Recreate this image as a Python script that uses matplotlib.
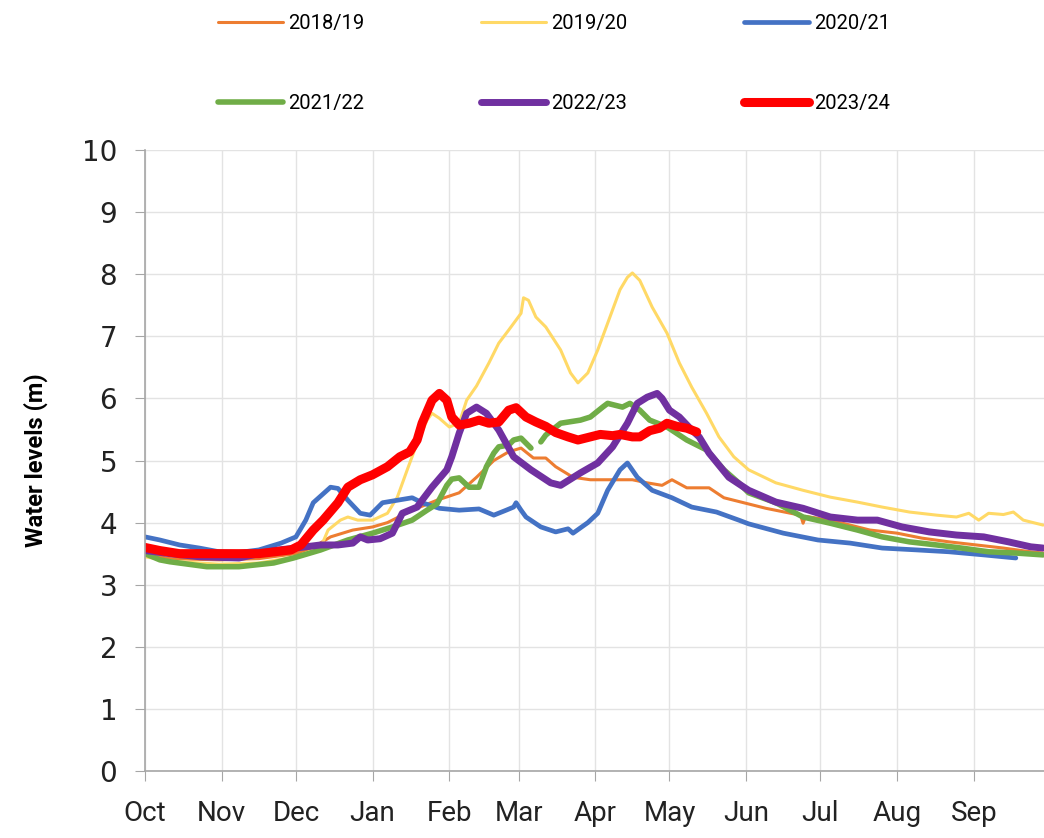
import numpy as np
import matplotlib
matplotlib.use("Agg")
from matplotlib import pyplot as plt

# water year Oct -> Sep, x in days since 1 Oct
months = ['Oct', 'Nov', 'Dec', 'Jan', 'Feb', 'Mar', 'Apr', 'May', 'Jun', 'Jul', 'Aug', 'Sep']
month_days = [0, 31, 61, 92, 123, 151, 182, 212, 243, 273, 304, 335]

d1819 = [0, 10, 30, 46, 61, 68, 75, 84, 92, 98, 108, 118, 127, 134, 141, 147, 152, 157, 162, 166, 173,
         180, 189, 197, 203, 209, 213, 219, 228, 234, 242, 251, 261, 265, 266, 267, 272, 282, 293, 304,
         314, 325, 336, 347, 358, 363]
v1819 = [3.5, 3.42, 3.4, 3.42, 3.5, 3.6, 3.77, 3.88, 3.93, 4.0, 4.2, 4.36, 4.48, 4.73, 5.0, 5.14, 5.2,
         5.04, 5.04, 4.9, 4.73, 4.69, 4.69, 4.69, 4.64, 4.6, 4.69, 4.56, 4.56, 4.4, 4.32, 4.23, 4.15, 4.12,
         3.99, 4.1, 4.07, 3.99, 3.88, 3.83, 3.75, 3.69, 3.64, 3.59, 3.53, 3.51]

d1920 = [0, 10, 30, 46, 61, 71, 74, 79, 82, 86, 92, 98, 102, 106, 110, 114, 116, 119, 123, 127, 130,
         134, 139, 143, 147, 152, 153, 155, 158, 162, 168, 172, 175, 179, 183, 187, 192, 195, 197, 200,
         205, 211, 216, 221, 227, 232, 238, 244, 255, 266, 277, 288, 298, 309, 320, 328, 333, 337, 341,
         347, 351, 355, 363]
v1920 = [3.45, 3.38, 3.33, 3.35, 3.45, 3.6, 3.88, 4.04, 4.09, 4.04, 4.04, 4.15, 4.41, 4.85, 5.28, 5.65,
         5.76, 5.68, 5.54, 5.6, 5.97, 6.2, 6.57, 6.89, 7.1, 7.37, 7.62, 7.58, 7.31, 7.15, 6.78, 6.41, 6.25,
         6.41, 6.78, 7.21, 7.75, 7.95, 8.02, 7.9, 7.47, 7.05, 6.57, 6.18, 5.76, 5.38, 5.06, 4.85, 4.64,
         4.52, 4.41, 4.33, 4.25, 4.17, 4.12, 4.09, 4.15, 4.04, 4.15, 4.13, 4.17, 4.04, 3.96]

d2021 = [0, 6, 14, 22, 30, 38, 46, 55, 61, 65, 68, 75, 78, 82, 87, 91, 96, 102, 108, 112, 119, 127,
         135, 141, 146, 149, 150, 152, 154, 160, 166, 171, 173, 179, 183, 187, 192, 195, 199, 205, 213,
         221, 231, 240, 244, 258, 272, 285, 298, 312, 325, 339, 352]
v2021 = [3.77, 3.72, 3.64, 3.59, 3.53, 3.52, 3.56, 3.67, 3.77, 4.04, 4.32, 4.57, 4.55, 4.36, 4.15, 4.12,
         4.32, 4.36, 4.4, 4.32, 4.23, 4.2, 4.22, 4.12, 4.2, 4.25, 4.32, 4.2, 4.09, 3.93, 3.85, 3.9, 3.83,
         4.0, 4.15, 4.52, 4.85, 4.96, 4.73, 4.52, 4.4, 4.25, 4.17, 4.04, 3.98, 3.83, 3.72, 3.67, 3.59, 3.56,
         3.53, 3.48, 3.43]

d2122 = [0, 6, 10, 25, 38, 52, 60, 71, 82, 92, 100, 108, 114, 118, 122, 124, 127, 131, 135, 138, 141,
         143, 147, 149, 152, 156, 157, 160, 162, 168, 176, 180, 185, 187, 193, 196, 200, 204, 211, 219,
         227, 234, 240, 244, 255, 266, 277, 288, 298, 309, 320, 330, 341, 352, 363]
v2122 = [3.5, 3.4, 3.37, 3.29, 3.29, 3.35, 3.43, 3.56, 3.72, 3.83, 3.93, 4.04, 4.2, 4.3, 4.6, 4.7, 4.72,
         4.57, 4.57, 4.9, 5.12, 5.22, 5.25, 5.33, 5.36, 5.2, np.nan, 5.3, 5.41, 5.6, 5.65, 5.7, 5.86, 5.92,
         5.86, 5.92, 5.81, 5.65, 5.54, 5.33, 5.17, 4.85, 4.64, 4.48, 4.32, 4.09, 3.99, 3.88, 3.77, 3.69,
         3.64, 3.59, 3.53, 3.51, 3.48]

d2223 = [0, 10, 22, 38, 52, 63, 71, 78, 84, 87, 90, 95, 100, 104, 110, 112, 116, 122, 124, 127, 130,
         134, 138, 143, 149, 156, 164, 168, 176, 183, 189, 195, 199, 203, 207, 209, 212, 216, 221, 224,
         228, 236, 244, 255, 266, 277, 288, 296, 306, 317, 328, 339, 349, 358, 363]
v2223 = [3.55, 3.5, 3.45, 3.43, 3.55, 3.6, 3.64, 3.64, 3.67, 3.77, 3.72, 3.74, 3.83, 4.15, 4.25, 4.36,
         4.57, 4.85, 5.06, 5.44, 5.76, 5.86, 5.76, 5.49, 5.06, 4.85, 4.64, 4.6, 4.8, 4.96, 5.22, 5.6, 5.92,
         6.02, 6.08, 6.0, 5.81, 5.7, 5.49, 5.38, 5.12, 4.73, 4.52, 4.33, 4.23, 4.09, 4.04, 4.04, 3.93, 3.85,
         3.8, 3.77, 3.69, 3.61, 3.59]

d2324 = [0, 6, 14, 30, 46, 59, 63, 68, 72, 78, 82, 87, 92, 98, 103, 107, 110, 112, 116, 119, 122, 124,
         127, 131, 135, 139, 143, 147, 150, 154, 158, 162, 166, 171, 175, 180, 184, 189, 192, 197, 200,
         204, 208, 211, 215, 219, 223]
v2324 = [3.6, 3.55, 3.5, 3.5, 3.5, 3.56, 3.64, 3.88, 4.04, 4.32, 4.57, 4.69, 4.77, 4.9, 5.06, 5.14, 5.33,
         5.6, 5.97, 6.08, 5.97, 5.7, 5.57, 5.6, 5.65, 5.6, 5.62, 5.81, 5.85, 5.7, 5.62, 5.55, 5.45, 5.38,
         5.33, 5.38, 5.42, 5.4, 5.42, 5.38, 5.38, 5.48, 5.52, 5.6, 5.55, 5.52, 5.46]

series = [
    ('2018/19', d1819, v1819, '#ED7D31', 2.2),
    ('2019/20', d1920, v1920, '#FFD966', 2.2),
    ('2020/21', d2021, v2021, '#4472C4', 3.4),
    ('2021/22', d2122, v2122, '#70AD47', 4.0),
    ('2022/23', d2223, v2223, '#7030A0', 5.0),
    ('2023/24', d2324, v2324, '#FF0000', 6.5),
]

narrow = ['Roboto', 'DejaVu Sans']

fig = plt.figure(figsize=(10.44, 8.38), dpi=100)
ax = fig.add_axes([145 / 1044, 1 - 771 / 838, 903 / 1044, 621 / 838])

handles = []
for name, d, v, col, lw in series:
    h, = ax.plot(d, v, color=col, lw=lw, label=name, solid_capstyle='round', solid_joinstyle='round')
    handles.append(h)

ax.set_xlim(0, 365)
ax.set_ylim(0, 10)
ax.set_yticks(range(0, 11))
ax.set_xticks(month_days)
ax.set_xticklabels(months, fontsize=20, family=narrow)
ax.tick_params(axis='y', labelsize=20, length=7, pad=13, color='#a6a6a6', labelcolor='#222222')
ax.tick_params(axis='x', length=7, pad=14, color='#a6a6a6', labelcolor='#222222')
ax.grid(True, color='#e3e3e3', lw=1)
ax.set_axisbelow(True)
for s in ['top', 'right']:
    ax.spines[s].set_visible(False)
for s in ['left', 'bottom']:
    ax.spines[s].set_color('#a6a6a6')
    ax.spines[s].set_linewidth(1.2)

ax.set_ylabel('Water levels (m)', fontsize=17, fontweight='bold', family=narrow)
ax.yaxis.set_label_coords(-0.107, 0.5)

# legend: 3 columns x 2 rows, filled row by row
order = [0, 3, 1, 4, 2, 5]
fig.legend([handles[i] for i in order], [series[i][0] for i in order], ncol=3,
           loc='upper left', bbox_to_anchor=(206 / 1044, 0.998), frameon=False,
           prop={'family': narrow, 'size': 14.5},
           handlelength=3.2, handletextpad=0.28, columnspacing=5.8, labelspacing=3.05,
           borderaxespad=0.2)

fig.savefig('out.png', dpi=100)
